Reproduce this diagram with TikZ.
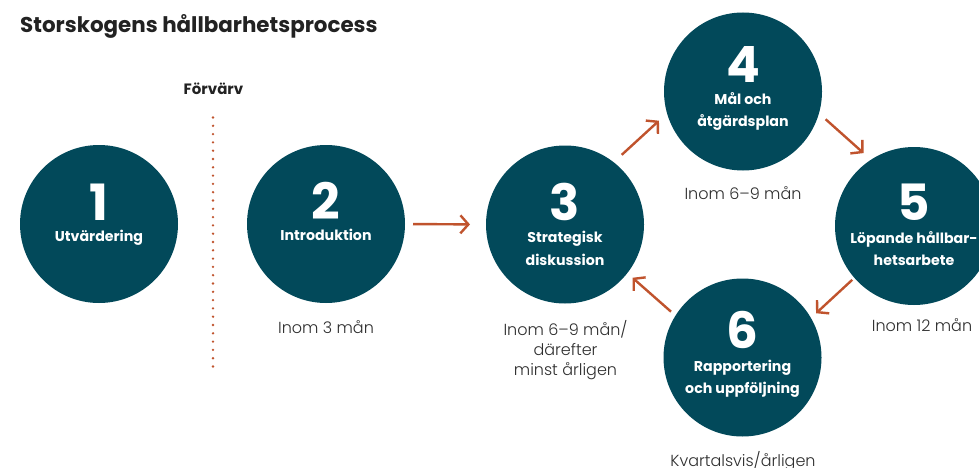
\documentclass[tikz,border=0pt]{standalone}
\usepackage{fontspec}
\setmainfont{Poppins}
\newfontfamily\lightfont{Poppins Light}
\usetikzlibrary{arrows.meta}
\definecolor{circfill}{HTML}{02495A}
\definecolor{arrowc}{HTML}{C0532D}
\definecolor{captext}{HTML}{2E2E2E}
\definecolor{titletext}{HTML}{222222}
\begin{document}
\begin{tikzpicture}[x=1pt,y=-1pt,
  stepcircle/.style={circle, fill=circfill, minimum size=158pt, inner sep=0pt, outer sep=0pt},
  num/.style={text=white, anchor=base, inner sep=0pt, font=\bfseries\fontsize{50}{50}\selectfont},
  lbl/.style={text=white, anchor=base, inner sep=0pt, font=\bfseries\fontsize{14.2}{20}\selectfont},
  captxt/.style={text=captext, anchor=base, inner sep=0pt, font=\lightfont\fontsize{16}{20}\selectfont},
  arr/.style={draw=arrowc, line width=2.4pt, -{Straight Barb[length=8pt,width=18pt]}},
  dotline/.style={draw=arrowc, line width=2.6pt, line cap=round, dash pattern=on 0pt off 8.3pt}]
\useasboundingbox (0,0) rectangle (979,468);
\fill[white] (0,0) rectangle (979,468);

% title
\node[anchor=base west, inner sep=0pt, text=titletext, font=\bfseries\fontsize{21.4}{24}\selectfont] (title) at (20,33) {Storskogens hållbarhetsprocess};
\node[anchor=base, inner sep=0pt, text=titletext, font=\bfseries\fontsize{15}{18}\selectfont] (forv) at (213.5,95) {Förvärv};
\coordinate (dtop) at (213,117.5);
\coordinate (dbot) at (213,367);
\draw[dotline] (dtop) -- (dbot);

% circles
\node[stepcircle] (c1) at (99,224) {};
\node[stepcircle] (c2) at (326,224) {};
\node[stepcircle] (c3) at (565,224.5) {};
\node[stepcircle] (c4) at (743,91.5) {};
\node[stepcircle] (c5) at (914,226) {};
\node[stepcircle] (c6) at (742.5,357.5) {};

% numbers
\node[num] (n1) at (99,220) {1};
\node[num] (n2) at (326,219) {2};
\node[num] (n3) at (565,220) {3};
\node[num] (n4) at (743,82.7) {4};
\node[num] (n5) at (914,220) {5};
\node[num] (n6) at (742.5,348.3) {6};

% labels
\node[lbl] (l1) at (99,241.7) {Utvärdering};
\node[lbl] (l2) at (326,240) {Introduktion};
\node[lbl] (l3a) at (565,242.7) {Strategisk};
\node[lbl] (l3b) at (565,265) {diskussion};
\node[lbl] (l4a) at (743,105) {Mål och};
\node[lbl] (l4b) at (743,126.7) {åtgärdsplan};
\node[lbl] (l5a) at (914,243) {Löpande hållbar-};
\node[lbl] (l5b) at (914,265) {hetsarbete};
\node[lbl] (l6a) at (742.5,371) {Rapportering};
\node[lbl] (l6b) at (742.5,393) {och uppföljning};

% captions
\node[captxt] (k2) at (326,333.3) {Inom 3 mån};
\node[captxt] (k3a) at (565.5,335) {Inom 6–9 mån/};
\node[captxt] (k3b) at (565.5,355) {därefter};
\node[captxt] (k3c) at (565.5,375.7) {minst årligen};
\node[captxt] (k4) at (743,199) {Inom 6–9 mån};
\node[captxt] (k5) at (922,331.7) {Inom 12 mån};
\node[captxt] (k6) at (743,466) {Kvartalsvis/årligen};

% arrows
\draw[arr, shorten <=8pt, shorten >=16pt] (c2.east) -- (c3.west);
\draw[arr, shorten <=11pt, shorten >=11pt] (c3.52) -- (c4.196);
\draw[arr, shorten <=9pt, shorten >=10pt] (c4.344) -- (c5.123);
\draw[arr, shorten <=3pt, shorten >=7pt] (c5.221) -- (c6.30);
\draw[arr, shorten <=6pt, shorten >=7pt] (c6.148) -- (c3.322);
\end{tikzpicture}
\end{document}
